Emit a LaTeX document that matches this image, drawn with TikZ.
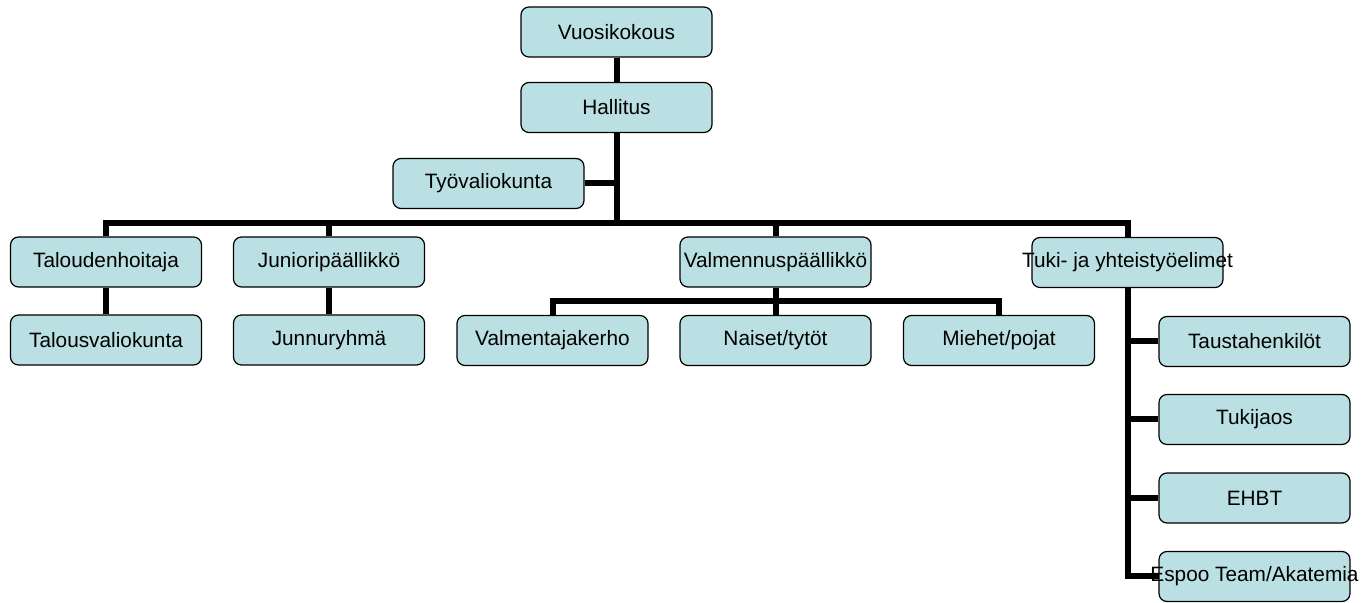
\documentclass[tikz,border=0pt]{standalone}
\usepackage{fontspec}
\setmainfont{Liberation Sans}
\definecolor{boxfill}{RGB}{187,224,227}
\begin{document}
\begin{tikzpicture}[x=0.5pt,y=-0.5pt,
  orgbox/.style={draw=black, line width=0.6pt, fill=boxfill, rounded corners=4pt,
    minimum width=95.5pt, minimum height=25pt, inner sep=0pt,
    font=\fontsize{10.4pt}{12pt}\selectfont},
  conn/.style={line width=3pt, black}]
\useasboundingbox (0,0) rectangle (1366,603);
% row 1
\node[orgbox] (vuosi) at (616.5,32) {\makebox[0pt]{Vuosikokous}};
\node[orgbox] (hall) at (616.5,107.5) {\makebox[0pt]{Hallitus}};
\node[orgbox] (tyo) at (488.5,183.5) {\makebox[0pt]{Työvaliokunta}};
% row 2
\node[orgbox] (tal) at (106,262) {\makebox[0pt]{Taloudenhoitaja}};
\node[orgbox] (jun) at (329,262) {\makebox[0pt]{Junioripäällikkö}};
\node[orgbox] (valm) at (775.5,262) {\makebox[0pt]{Valmennuspäällikkö}};
\node[orgbox] (tuki) at (1127.5,262.5) {\makebox[0pt]{Tuki- ja yhteistyöelimet}};
% row 3
\node[orgbox] (tv) at (106,340) {\makebox[0pt]{Talousvaliokunta}};
\node[orgbox] (junnu) at (329,340) {\makebox[0pt]{Junnuryhmä}};
\node[orgbox] (vk) at (552.5,340.5) {\makebox[0pt]{Valmentajakerho}};
\node[orgbox] (nt) at (775.5,340.5) {\makebox[0pt]{Naiset/tytöt}};
\node[orgbox] (mp) at (999,340.5) {\makebox[0pt]{Miehet/pojat}};
% right column
\node[orgbox] (taus) at (1254.5,341.5) {\makebox[0pt]{Taustahenkilöt}};
\node[orgbox] (tukij) at (1254.5,419.5) {\makebox[0pt]{Tukijaos}};
\node[orgbox] (ehbt) at (1254.5,498) {\makebox[0pt]{EHBT}};
\coordinate (bus) at (617,223);
\coordinate (sub) at (776,301);
% connectors
\draw[conn] (vuosi.south) -- (hall.north);
\draw[conn] (hall.south) -- (hall.south |- bus);
\draw[conn] (tyo.east) -- (tyo.east -| hall.south);
\draw[conn] (tal.north) |- (bus) -| (tuki.north);
\draw[conn] (jun.north) -- (jun.north |- bus);
\draw[conn] (valm.north) -- (valm.north |- bus);
\draw[conn] (tal.south) -- (tv.north);
\draw[conn] (jun.south) -- (junnu.north);
\draw[conn] (valm.south) -- (nt.north);
\draw[conn] (vk.north) |- (sub) -| (mp.north);
\coordinate (espw) at (1159,576.5);
\draw[conn] (tuki.south) |- (espw);
\draw[conn] (taus.west) -- (taus.west -| tuki.south);
\draw[conn] (tukij.west) -- (tukij.west -| tuki.south);
\draw[conn] (ehbt.west) -- (ehbt.west -| tuki.south);
\node[orgbox, fill opacity=1] (espoo) at (1254.5,576.5) {\makebox[0pt]{Espoo Team/Akatemia}};
\end{tikzpicture}
\end{document}
